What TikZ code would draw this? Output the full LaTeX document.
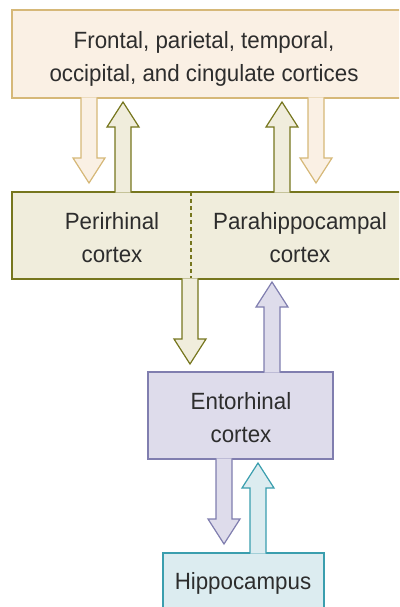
\documentclass[tikz,border=0pt]{standalone}
\usepackage{fontspec}
\setmainfont[FakeStretch=0.95]{Liberation Sans}
\usetikzlibrary{calc,positioning}
\definecolor{topfill}{RGB}{250,240,228}
\definecolor{topline}{RGB}{214,184,120}
\definecolor{midfill}{RGB}{240,237,220}
\definecolor{midline}{RGB}{118,118,30}
\definecolor{entofill}{RGB}{222,220,235}
\definecolor{entoline}{RGB}{128,126,175}
\definecolor{hipfill}{RGB}{220,236,240}
\definecolor{hipline}{RGB}{58,158,174}
\definecolor{txtgray}{RGB}{45,45,45}
\tikzset{region/.style={rectangle,draw,line width=1.2pt,inner sep=0pt,outer sep=0pt,anchor=north west},
         area label/.style={align=center,text=txtgray,inner sep=0pt,font=\fontsize{23.5}{33}\selectfont},
         flow/.style={line width=1.2pt,line join=miter}
}
% block arrow: style, x, tail anchor, tip point
\newcommand{\blockarrow}[4]{%
  \filldraw[flow,#1] let \p1=(#3), \p2=(#4), \n1={ifthenelse(\y2>\y1,1,-1)} in
    ({#2pt-8pt},{\y1-\n1*0.6pt}) -- ({#2pt-8pt},{\y2-\n1*25pt}) -- ({#2pt-16pt},{\y2-\n1*25pt})
    -- (#2pt,\y2) -- ({#2pt+16pt},{\y2-\n1*25pt}) -- ({#2pt+8pt},{\y2-\n1*25pt})
    -- ({#2pt+8pt},{\y1-\n1*0.6pt});}

\begin{document}
\begin{tikzpicture}[x=1pt,y=-1pt]
\clip (0,0) rectangle (399,607);
\useasboundingbox (0,0) rectangle (399,607);

% boxes
\node[region,fill=topfill,draw=topline,minimum width=420pt,minimum height=88pt] (cortices) at (12,10) {};
\node[region,fill=midfill,draw=midline,minimum width=420pt,minimum height=87pt] (medial) at (12,192) {};
\node[region,fill=entofill,draw=entoline,minimum width=185pt,minimum height=87pt] (ento) at (148,372) {};
\node[region,fill=hipfill,draw=hipline,minimum width=161pt,minimum height=80pt] (hippo) at (163,553) {};

\coordinate (divx) at (191,0);
\draw[midline,line width=1.2pt,dash pattern=on 4pt off 3pt] (medial.north -| divx) -- (medial.south -| divx);

% labels
\node[area label] (corticestext) at (204,59) {Frontal, parietal, temporal,\\occipital, and cingulate cortices};
\node[area label] (perirhinal) at (112,238) {Perirhinal\\cortex};
\node[area label] (parahippo) at (300,238) {Parahippocampal\\cortex};
\node[area label] (entotext) at (241,418) {Entorhinal\\cortex};
\node[area label,anchor=base] (hippotext) at (243,589) {Hippocampus};

% connections
\blockarrow{fill=topfill,draw=topline}{89}{cortices.south}{[yshift=9pt]medial.north}
\blockarrow{fill=midfill,draw=midline}{123}{medial.north}{[yshift=-4pt]cortices.south}
\blockarrow{fill=midfill,draw=midline}{282}{medial.north}{[yshift=-4pt]cortices.south}
\blockarrow{fill=topfill,draw=topline}{316}{cortices.south}{[yshift=9pt]medial.north}
\blockarrow{fill=midfill,draw=midline}{190}{medial.south}{[yshift=8pt]ento.north}
\blockarrow{fill=entofill,draw=entoline}{272}{ento.north}{[yshift=-3pt]medial.south}
\blockarrow{fill=entofill,draw=entoline}{224}{ento.south}{[yshift=9pt]hippo.north}
\blockarrow{fill=hipfill,draw=hipline}{258}{hippo.north}{[yshift=-4pt]ento.south}
\end{tikzpicture}
\end{document}
